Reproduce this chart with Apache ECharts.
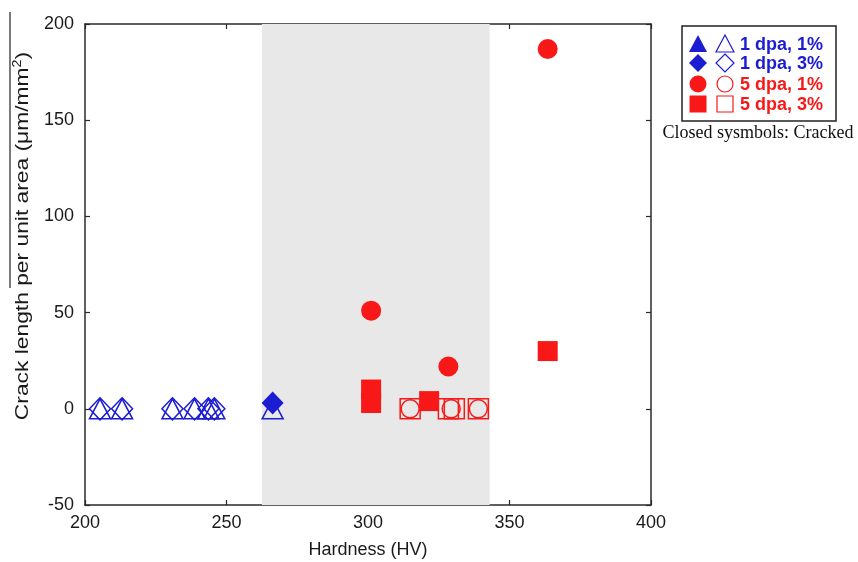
<!DOCTYPE html>
<html>
<head>
<meta charset="utf-8">
<script src="https://cdn.jsdelivr.net/npm/echarts@6/dist/echarts.min.js"></script>
<style>
  html, body { margin: 0; padding: 0; background: #fff; }
  #chart { width: 858px; height: 562px; }
</style>
</head>
<body>
<div id="chart"></div>
<script>
// Hardness (HV) vs crack length per unit area, grouped by dose and strain
const xTicks = [200, 250, 300, 350, 400];
const yTicks = [-50, 0, 50, 100, 150, 200];
const shadedRange = [262.5, 343];

// 1 dpa, 1% (triangles)
const dpa1s1Open = [[205.3, 0], [213.1, 0], [230.9, 0], [238.7, 0], [243.6, 0], [245.7, 0], [266.3, 0]];
const dpa1s1Closed = [];
// 1 dpa, 3% (diamonds)
const dpa1s3Open = [[205.3, 0], [213.1, 0], [230.9, 0], [238.7, 0], [243.6, 0], [245.7, 0]];
const dpa1s3Closed = [[266.3, 3]];
// 5 dpa, 1% (circles)
const dpa5s1Open = [[314.9, 0], [329.4, 0], [339.0, 0]];
const dpa5s1Closed = [[301.1, 51], [328.4, 22], [363.5, 187]];
// 5 dpa, 3% (squares)
const dpa5s3Open = [[314.9, 0], [328.4, 0], [330.5, 0], [339.0, 0]];
const dpa5s3Closed = [[301.1, 10], [301.1, 3], [321.6, 4], [363.5, 30]];

const legendRows = ['1 dpa, 1%', '1 dpa, 3%', '5 dpa, 1%', '5 dpa, 3%'];
const noteText = 'Closed sysmbols: Cracked';

const BLUE = '#1c1cd2';
const RED = '#f81818';
const SANS = 'Arial, "Liberation Sans", sans-serif';

function openSeries(name, data, symbol, size, color) {
  return {
    name, type: 'scatter', data, symbol, symbolSize: size,
    itemStyle: { color: 'rgba(255,255,255,0)', borderColor: color, borderWidth: 1.5, opacity: 1 },
    z: 3
  };
}
function closedSeries(name, data, symbol, size, color) {
  return {
    name, type: 'scatter', data, symbol, symbolSize: size,
    itemStyle: { color: color, borderWidth: 0, opacity: 1 },
    z: 4
  };
}

const chart = echarts.init(document.getElementById('chart'), null, { renderer: 'canvas' });

const axisLine = { show: true, onZero: false, lineStyle: { color: '#2a2a2a', width: 1.5 } };
const axisTick = { show: true, inside: true, length: 5, lineStyle: { color: '#2a2a2a', width: 1.2 } };
const labelFont = { fontFamily: SANS, fontSize: 18, color: '#1a1a1a' };

// legend drawn as graphics beside the plot
const legendGraphics = [];
const lx = 682, ly = 26, lw = 154, lh = 95;
legendGraphics.push({
  type: 'rect', shape: { x: lx, y: ly, width: lw, height: lh },
  style: { fill: '#fff', stroke: '#222', lineWidth: 1.5 }
});
const rowY = [44, 63, 84, 104];
const rowColor = [BLUE, BLUE, RED, RED];
rowY.forEach((cy, i) => {
  const c = rowColor[i];
  const fx = 698, ox = 725;
  if (i === 0) {
    legendGraphics.push({ type: 'polygon', shape: { points: [[fx, cy - 9], [fx - 9, cy + 8], [fx + 9, cy + 8]] }, style: { fill: c } });
    legendGraphics.push({ type: 'polygon', shape: { points: [[ox, cy - 9], [ox - 9, cy + 8], [ox + 9, cy + 8]] }, style: { fill: 'none', stroke: c, lineWidth: 1.2 } });
  } else if (i === 1) {
    legendGraphics.push({ type: 'polygon', shape: { points: [[fx, cy - 9], [fx + 9, cy], [fx, cy + 9], [fx - 9, cy]] }, style: { fill: c } });
    legendGraphics.push({ type: 'polygon', shape: { points: [[ox, cy - 9], [ox + 9, cy], [ox, cy + 9], [ox - 9, cy]] }, style: { fill: 'none', stroke: c, lineWidth: 1.2 } });
  } else if (i === 2) {
    legendGraphics.push({ type: 'circle', shape: { cx: fx, cy: cy, r: 8.5 }, style: { fill: c } });
    legendGraphics.push({ type: 'circle', shape: { cx: ox, cy: cy, r: 8 }, style: { fill: 'none', stroke: c, lineWidth: 1.2 } });
  } else {
    legendGraphics.push({ type: 'rect', shape: { x: fx - 8.5, y: cy - 8.5, width: 17, height: 17 }, style: { fill: c } });
    legendGraphics.push({ type: 'rect', shape: { x: ox - 8, y: cy - 8, width: 16, height: 16 }, style: { fill: 'none', stroke: c, lineWidth: 1.2 } });
  }
  legendGraphics.push({
    type: 'text', x: 740, y: cy + 1,
    style: { text: legendRows[i], fill: c, font: 'bold 18px ' + SANS, textVerticalAlign: 'middle' }
  });
});
legendGraphics.push({
  type: 'text', x: 758, y: 133,
  style: { text: noteText, fill: '#111', font: '18px "Liberation Serif", "Times New Roman", serif', textAlign: 'center', textVerticalAlign: 'middle' }
});
// thin rule at the far left edge
legendGraphics.push({
  type: 'line', shape: { x1: 10, y1: 12, x2: 10, y2: 288 },
  style: { stroke: '#222', lineWidth: 1.2 }
});
// y-axis title
legendGraphics.push({
  type: 'text', x: 23, y: 236, rotation: Math.PI / 2, scaleX: 1.2,
  style: {
    text: '{a|Crack length per unit area (μm/mm}{s|2}{a|)}',
    textAlign: 'center', textVerticalAlign: 'middle',
    rich: {
      a: { fontFamily: SANS, fontSize: 19, fill: '#1a1a1a' },
      s: { fontFamily: SANS, fontSize: 12, fill: '#1a1a1a', verticalAlign: 'top', padding: [0, 0, 10, 0] }
    }
  }
});

chart.setOption({
  animation: false,
  backgroundColor: '#fff',
  grid: { left: 85, top: 24, right: 207, bottom: 57, show: false, outerBoundsMode: 'none', containLabel: false },
  xAxis: [{
    type: 'value', min: xTicks[0], max: xTicks[xTicks.length - 1], interval: 50,
    axisLine, axisTick, splitLine: { show: false },
    axisLabel: Object.assign({ margin: 9 }, labelFont),
    name: 'Hardness (HV)', nameLocation: 'middle', nameGap: 36,
    nameTextStyle: { fontFamily: SANS, fontSize: 18, color: '#1a1a1a' }
  }, {
    type: 'value', position: 'top', min: xTicks[0], max: xTicks[xTicks.length - 1], interval: 50,
    axisLine, axisTick, axisLabel: { show: false }, splitLine: { show: false }
  }],
  yAxis: [{
    type: 'value', min: yTicks[0], max: yTicks[yTicks.length - 1], interval: 50,
    axisLine, axisTick, splitLine: { show: false },
    axisLabel: Object.assign({ margin: 11 }, labelFont)
  }, {
    type: 'value', position: 'right', min: yTicks[0], max: yTicks[yTicks.length - 1], interval: 50,
    axisLine, axisTick, axisLabel: { show: false }, splitLine: { show: false }
  }],
  graphic: legendGraphics,
  series: [
    {
      type: 'scatter', data: [], silent: true, z: 1,
      markArea: {
        silent: true,
        itemStyle: { color: '#e8e8e8' },
        data: [[{ xAxis: shadedRange[0], yAxis: yTicks[0] }, { xAxis: shadedRange[1], yAxis: yTicks[yTicks.length - 1] }]]
      }
    },
    openSeries('1 dpa, 1% open', dpa1s1Open, 'triangle', [21, 20], BLUE),
    openSeries('1 dpa, 3% open', dpa1s3Open, 'diamond', [21, 22], BLUE),
    openSeries('5 dpa, 1% open', dpa5s1Open, 'circle', 18, RED),
    openSeries('5 dpa, 3% open', dpa5s3Open, 'rect', 20, RED),
    closedSeries('1 dpa, 1% closed', dpa1s1Closed, 'triangle', [21, 20], BLUE),
    closedSeries('1 dpa, 3% closed', dpa1s3Closed, 'diamond', [22, 23], BLUE),
    closedSeries('5 dpa, 1% closed', dpa5s1Closed, 'circle', 20, RED),
    closedSeries('5 dpa, 3% closed', dpa5s3Closed, 'rect', 20, RED)
  ]
});
</script>
</body>
</html>
